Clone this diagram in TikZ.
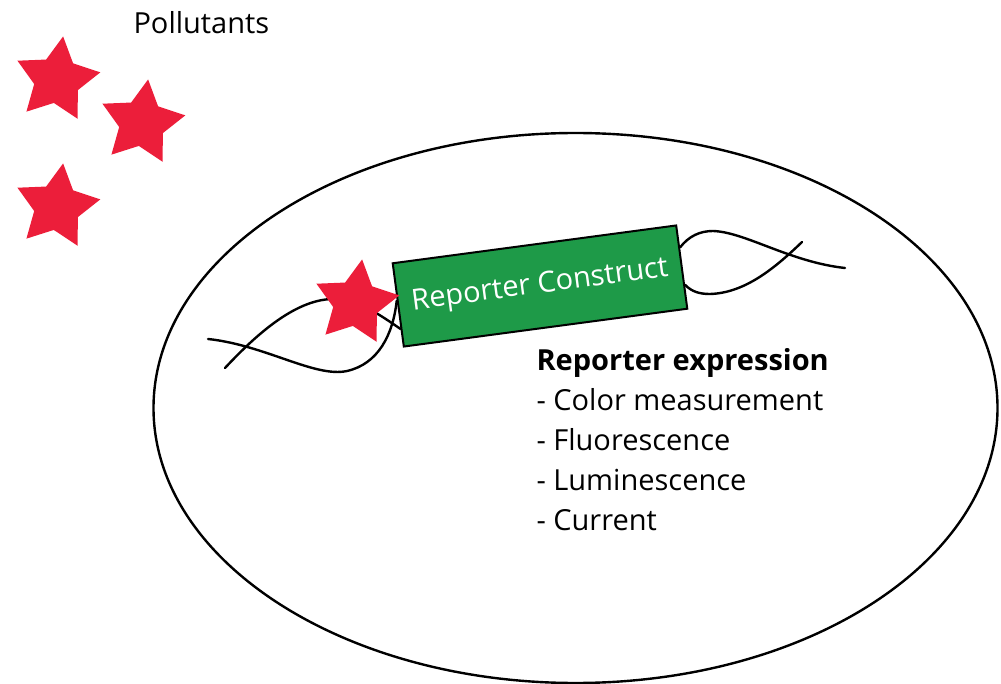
\documentclass[tikz,border=0pt]{standalone}
\usepackage{fontspec}
\setmainfont{Open Sans}
\usetikzlibrary{positioning,shapes.geometric,calc,backgrounds}

\definecolor{starred}{RGB}{236,30,58}
\definecolor{constructgreen}{RGB}{30,154,72}

\tikzset{
  pollutant/.style={star, star points=5, star point ratio=1.9, fill=starred,
    minimum size=88pt, inner sep=0pt, rotate=-8},
  strand/.style={line width=2.4pt, line cap=round},
  bigfont/.style={font=\fontsize{29}{40}\selectfont}
}

\begin{document}
\begin{tikzpicture}[x=1pt, y=-1pt]
  \useasboundingbox (0,0) rectangle (1001,684);
  % the cell
  \draw[line width=2.4pt] (575.5,408) ellipse [x radius=422pt, y radius=275pt];

  \node (label) [anchor=base west, bigfont] at (130,34) {Pollutants};
  \node (p1) [pollutant] at (57,80) {};
  \node (p2) [pollutant] at (142,123) {};
  \node (p3) [pollutant] at (57,207) {};

  \node (construct) [draw, line width=2pt, fill=constructgreen, text=white,
                     rotate=7.6, minimum width=286pt, minimum height=84pt,
                     bigfont] at (540,286) {Reporter Construct};
  \node (bound) [pollutant] at (356,303) {};

  \node (expr) [anchor=base west, align=left, bigfont] at (533,530)
    {\textbf{Reporter expression}\\- Color measurement\\- Fluorescence\\
     - Luminescence\\- Current};

  % strands behind the construct
  \begin{scope}[on background layer]
    \draw[strand] (208,339) .. controls (265,345) and (315,378) .. (347,371)
      .. controls (378,364) and (393,335)
      .. ($(construct.north west)!0.45!(construct.south west)$);
    \draw[strand] (225,368) .. controls (265,325) and (300,300) .. (332,299)
      .. controls (358,299) and (380,315)
      .. ($(construct.north west)!0.78!(construct.south west)$);
    \draw[strand] ($(construct.north east)!0.27!(construct.south east)$)
      .. controls (689,236) and (700,231) .. (713,231)
      .. controls (745,232) and (790,262) .. (845,268);
    \draw[strand] ($(construct.north east)!0.71!(construct.south east)$)
      .. controls (692,292) and (700,294) .. (710,294)
      .. controls (745,293) and (775,268) .. (802,242);
  \end{scope}
\end{tikzpicture}
\end{document}
